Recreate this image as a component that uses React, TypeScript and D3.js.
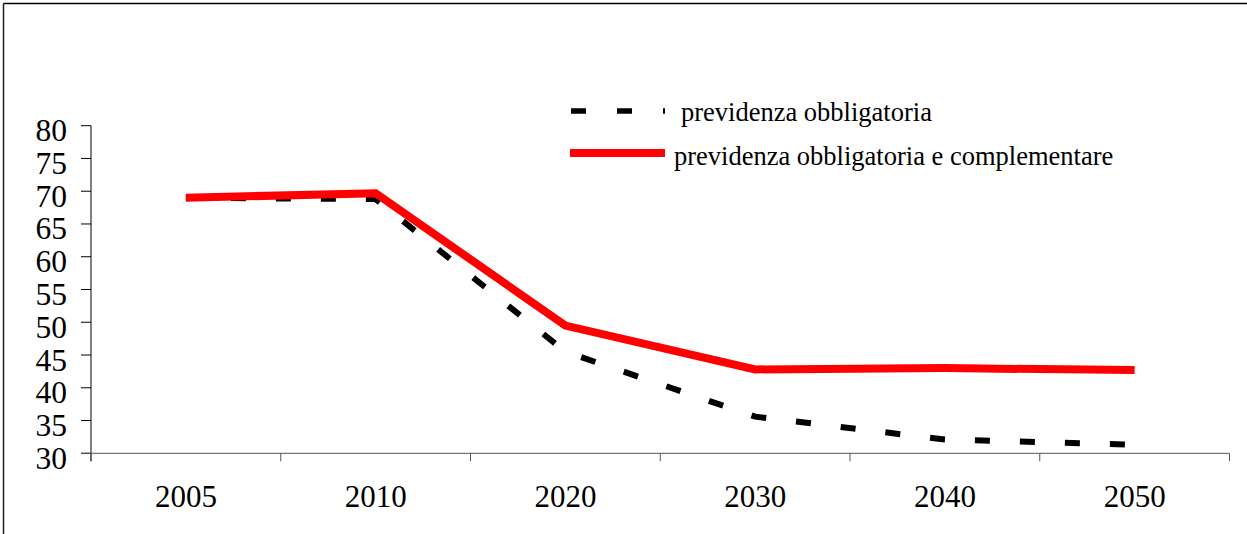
import React from "react";
import * as d3 from "d3";

const categories = ["2005", "2010", "2020", "2030", "2040", "2050"];
const obbligatoria = [69.0, 68.8, 45.5, 35.6, 32.1, 31.3];
const complementare = [69.0, 69.7, 49.5, 42.8, 43.0, 42.7];
const yTicks = [30, 35, 40, 45, 50, 55, 60, 65, 70, 75, 80];
const seriesNames = ["previdenza obbligatoria", "previdenza obbligatoria e complementare"];

const W = 1247;
const H = 534;
const left = 91;
const right = 1229.5;
const top = 125.7;
const bottom = 453.3;
const FONT = "'Liberation Serif', 'Times New Roman', serif";

export default function App() {
  const x = d3.scaleBand<string>().domain(categories).range([left, right]);
  const y = d3.scaleLinear().domain([30, 80]).range([bottom, top]);
  const cx = (c: string) => (x(c) as number) + x.bandwidth() / 2;
  const line = d3
    .line<number>()
    .x((_, i) => cx(categories[i]))
    .y((v) => y(v));
  const boundaries = [...categories.map((c) => x(c) as number), right];

  return (
    <svg
      width={W}
      height={H}
      style={{ position: "absolute", left: 0, top: 0, background: "#fff" }}
      fontFamily={FONT}
    >
      <rect x={0} y={0} width={W} height={H} fill="#fff" />
      {/* outer frame (top and left) */}
      <line x1={3.5} y1={3.5} x2={W} y2={3.5} stroke="#000" strokeWidth={1.5} />
      <line x1={3.5} y1={3.5} x2={3.5} y2={H} stroke="#222" strokeWidth={1.5} />

      {/* y axis */}
      <line x1={left} y1={top} x2={left} y2={bottom + 8} stroke="#000" strokeWidth={1} />
      {yTicks.map((t) => (
        <g key={t}>
          <line x1={left - 10} y1={y(t)} x2={left} y2={y(t)} stroke="#000" strokeWidth={1} />
          <text x={67} y={y(t) + 15.5} fontSize={31.5} textAnchor="end" fill="#000">
            {t}
          </text>
        </g>
      ))}

      {/* x axis */}
      <line x1={left - 10} y1={bottom} x2={right} y2={bottom} stroke="#555" strokeWidth={1} />
      {boundaries.map((b, i) => (
        <line key={i} x1={b} y1={bottom} x2={b} y2={bottom + 8} stroke="#555" strokeWidth={1} />
      ))}
      {categories.map((c) => (
        <text key={c} x={cx(c)} y={506.5} fontSize={31} textAnchor="middle" fill="#000">
          {c}
        </text>
      ))}

      {/* series */}
      <path
        d={line(obbligatoria) || ""}
        fill="none"
        stroke="#000"
        strokeWidth={6}
        strokeDasharray="15 30"
      />
      <path
        d={line(complementare) || ""}
        fill="none"
        stroke="#ff0000"
        strokeWidth={8}
        strokeLinejoin="miter"
      />

      {/* legend */}
      <line x1={571} y1={111} x2={665} y2={111} stroke="#000" strokeWidth={5.5} strokeDasharray="15 31" />
      <text x={681} y={121} fontSize={26.5} fill="#000">
        {seriesNames[0]}
      </text>
      <line x1={570} y1={153} x2={665} y2={153} stroke="#ff0000" strokeWidth={8} />
      <text x={674} y={165} fontSize={26.5} fill="#000">
        {seriesNames[1]}
      </text>
    </svg>
  );
}
